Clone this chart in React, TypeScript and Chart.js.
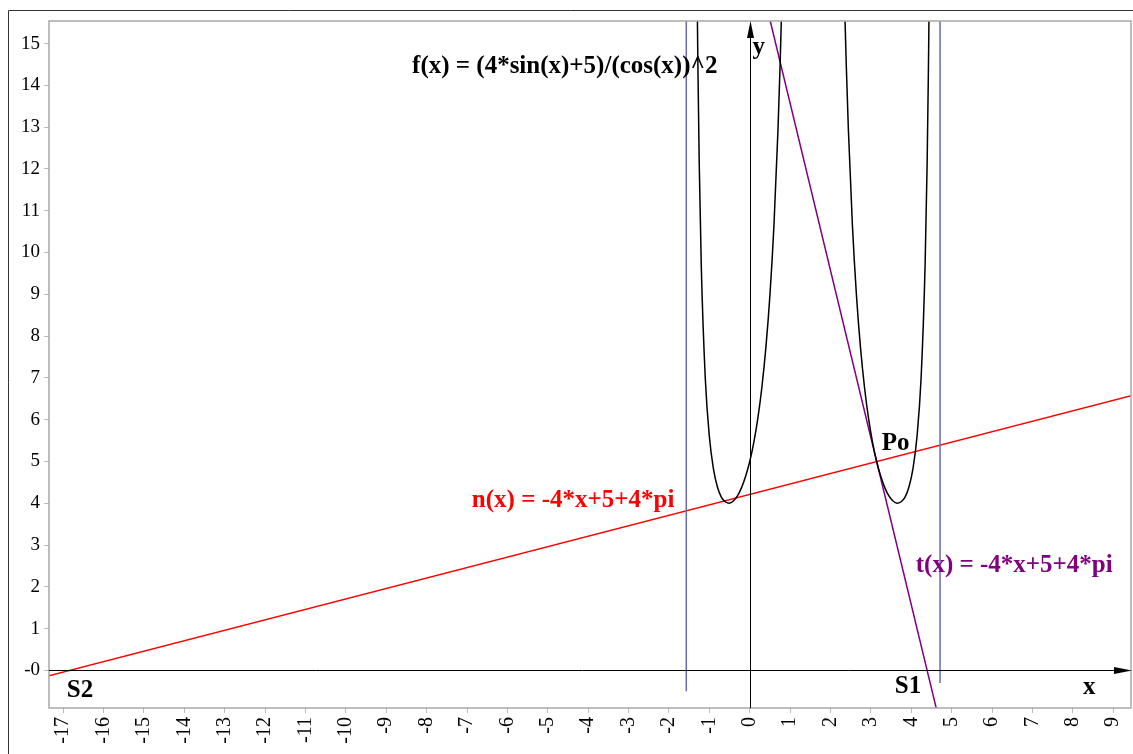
import React, { useEffect, useRef } from "react";
import { Chart, registerables } from "chart.js";

Chart.register(...registerables);

// ---- data ----
const xTickValues = [-17, -16, -15, -14, -13, -12, -11, -10, -9, -8, -7, -6, -5, -4, -3, -2, -1, 0, 1, 2, 3, 4, 5, 6, 7, 8, 9];
const yTickValues = [0, 1, 2, 3, 4, 5, 6, 7, 8, 9, 10, 11, 12, 13, 14, 15];
const yTickLabels = ["-0", "1", "2", "3", "4", "5", "6", "7", "8", "9", "10", "11", "12", "13", "14", "15"];

// f(x) = (4*sin(x)+5)/(cos(x))^2, left branch
const fBranch1X = [-1.3, -1.29, -1.28, -1.25, -1.2, -1.1, -1.0, -0.9, -0.8, -0.7, -0.6, -0.5, -0.4, -0.3, -0.2, -0.1, 0, 0.1, 0.2, 0.3, 0.4, 0.5, 0.6, 0.7, 0.75, 0.79];
const fBranch1Y = [16.0, 15.06, 14.21, 12.11, 9.69, 6.98, 5.6, 4.83, 4.39, 4.14, 4.03, 4.0, 4.06, 4.18, 4.38, 4.65, 5.0, 5.45, 6.03, 6.77, 7.73, 8.98, 10.66, 12.95, 14.43, 15.83];
// right branch
const fBranch2X = [2.352, 2.392, 2.442, 2.542, 2.642, 2.742, 2.842, 2.942, 3.042, 3.142, 3.242, 3.342, 3.442, 3.542, 3.642, 3.742, 3.842, 3.942, 4.042, 4.142, 4.242, 4.342, 4.392, 4.422, 4.432, 4.442];
const fBranch2Y = [15.83, 14.43, 12.95, 10.66, 8.98, 7.73, 6.77, 6.03, 5.45, 5.0, 4.65, 4.38, 4.18, 4.06, 4.0, 4.03, 4.14, 4.39, 4.83, 5.6, 6.98, 9.69, 12.11, 14.21, 15.06, 16.0];

// tangent t(x)
const tangentX = [0.3, 4.8];
const tangentY = [16.37, -1.63];
// line n(x)
const normalX = [-18, 10];
const normalY = [-0.29, 6.71];
// vertical asymptotes
const asymLeftX = [-1.571, -1.571];
const asymLeftY = [-0.5, 16];
const asymRightX = [4.712, 4.712];
const asymRightY = [-0.3, 16];

const X_MIN = -17.35;
const X_MAX = 9.44;
const Y_MIN = -0.9;
const Y_MAX = 15.54;

const SERIF = '"Liberation Serif", "Times New Roman", serif';

type Note = { text: string; x: number; y: number; color: string };
const notes: Note[] = [
  { text: "f(x) = (4*sin(x)+5)/(cos(x))^2", x: -8.36, y: 14.29, color: "#000000" },
  { text: "y", x: 0.07, y: 14.74, color: "#000000" },
  { text: "x", x: 8.25, y: -0.57, color: "#000000" },
  { text: "S1", x: 3.59, y: -0.54, color: "#000000" },
  { text: "S2", x: -16.91, y: -0.64, color: "#000000" },
  { text: "Po", x: 3.27, y: 5.27, color: "#000000" },
  { text: "n(x) = -4*x+5+4*pi", x: -6.88, y: 3.91, color: "#ff0000" },
  { text: "t(x) = -4*x+5+4*pi", x: 4.11, y: 2.35, color: "#800080" },
];

const pts = (xs: number[], ys: number[]) => xs.map((x, i) => ({ x, y: ys[i] }));

const decorPlugin = {
  id: "decor",
  beforeDraw(chart: any) {
    const ctx = chart.ctx;
    ctx.save();
    ctx.fillStyle = "#ffffff";
    ctx.fillRect(0, 0, chart.width, chart.height);
    // outer frame
    ctx.strokeStyle = "#333333";
    ctx.lineWidth = 1;
    ctx.beginPath();
    ctx.moveTo(8.5, chart.height);
    ctx.lineTo(8.5, 10.5);
    ctx.lineTo(chart.width, 10.5);
    ctx.stroke();
    ctx.restore();
  },
  afterDatasetsDraw(chart: any) {
    const ctx = chart.ctx;
    const a = chart.chartArea;
    const xs = chart.scales.x;
    const ys = chart.scales.y;
    ctx.save();
    // plot border
    ctx.strokeStyle = "#a8a8a8";
    ctx.lineWidth = 1.5;
    ctx.strokeRect(a.left, a.top, a.right - a.left, a.bottom - a.top);
    // x axis with arrow
    const y0 = Math.round(ys.getPixelForValue(0)) + 0.5;
    const x0 = Math.round(xs.getPixelForValue(0)) + 0.5;
    ctx.strokeStyle = "#000000";
    ctx.fillStyle = "#000000";
    ctx.lineWidth = 1;
    ctx.beginPath();
    ctx.moveTo(a.left, y0);
    ctx.lineTo(1116, y0);
    ctx.stroke();
    ctx.beginPath();
    ctx.moveTo(1132, y0);
    ctx.lineTo(1114, y0 - 3.5);
    ctx.lineTo(1114, y0 + 3.5);
    ctx.closePath();
    ctx.fill();
    // y axis with arrow
    ctx.beginPath();
    ctx.moveTo(x0, a.bottom);
    ctx.lineTo(x0, a.top + 15);
    ctx.stroke();
    ctx.beginPath();
    ctx.moveTo(x0, a.top);
    ctx.lineTo(x0 - 3.5, a.top + 17);
    ctx.lineTo(x0 + 3.5, a.top + 17);
    ctx.closePath();
    ctx.fill();
    // annotations
    ctx.font = `bold 25px ${SERIF}`;
    ctx.textAlign = "left";
    ctx.textBaseline = "alphabetic";
    for (const n of notes) {
      ctx.fillStyle = n.color;
      ctx.fillText(n.text, xs.getPixelForValue(n.x), ys.getPixelForValue(n.y));
    }
    ctx.restore();
  },
};

export default function App() {
  const ref = useRef<HTMLCanvasElement | null>(null);
  useEffect(() => {
    if (!ref.current) return;
    const line = (data: any, color: string) => ({
      data,
      showLine: true,
      borderColor: color,
      backgroundColor: color,
      borderWidth: 1.5,
      pointRadius: 0,
      pointHoverRadius: 0,
      fill: false,
    });
    const chart = new Chart(ref.current, {
      type: "scatter",
      data: {
        datasets: [
          line(pts(asymLeftX, asymLeftY), "#6a6ab4"),
          line(pts(asymRightX, asymRightY), "#6a6ab4"),
          { ...line(pts(fBranch1X, fBranch1Y), "#000000"), cubicInterpolationMode: "monotone" },
          { ...line(pts(fBranch2X, fBranch2Y), "#000000"), cubicInterpolationMode: "monotone" },
          line(pts(normalX, normalY), "#ff0000"),
          line(pts(tangentX, tangentY), "#800080"),
        ],
      },
      options: {
        animation: false,
        responsive: false,
        events: [],
        layout: { padding: { top: 21, right: 2, left: 0, bottom: 0 } },
        plugins: { legend: { display: false }, tooltip: { enabled: false }, title: { display: false } },
        scales: {
          x: {
            type: "linear",
            min: X_MIN,
            max: X_MAX,
            afterBuildTicks: (s: any) => {
              s.ticks = xTickValues.map((v) => ({ value: v }));
            },
            afterFit: (s: any) => {
              s.height = 46;
              s.paddingLeft = 0;
              s.paddingRight = 0;
            },
            ticks: {
              autoSkip: false,
              minRotation: 90,
              maxRotation: 90,
              padding: 4,
              color: "#000000",
              font: { family: SERIF, size: 20 },
              callback: (v: any) => String(v),
            },
            grid: { drawOnChartArea: false, tickLength: 5, color: "#bbbbbb" },
            border: { display: false },
          },
          y: {
            type: "linear",
            min: Y_MIN,
            max: Y_MAX,
            afterBuildTicks: (s: any) => {
              s.ticks = yTickValues.map((v) => ({ value: v }));
            },
            afterFit: (s: any) => {
              s.width = 49;
              s.paddingTop = 0;
              s.paddingBottom = 0;
            },
            ticks: {
              autoSkip: false,
              padding: 4,
              color: "#000000",
              font: { family: SERIF, size: 19 },
              callback: (v: any) => {
                const i = yTickValues.indexOf(Number(v));
                return i >= 0 ? yTickLabels[i] : "";
              },
            },
            grid: { drawOnChartArea: false, tickLength: 5, color: "#bbbbbb" },
            border: { display: false },
          },
        },
      } as any,
      plugins: [decorPlugin],
    });
    return () => chart.destroy();
  }, []);
  return (
    <div style={{ position: "absolute", left: 0, top: 0, width: 1133, height: 754, overflow: "hidden" }}>
      <canvas ref={ref} width={1133} height={754} style={{ width: 1133, height: 754, display: "block" }} />
    </div>
  );
}
